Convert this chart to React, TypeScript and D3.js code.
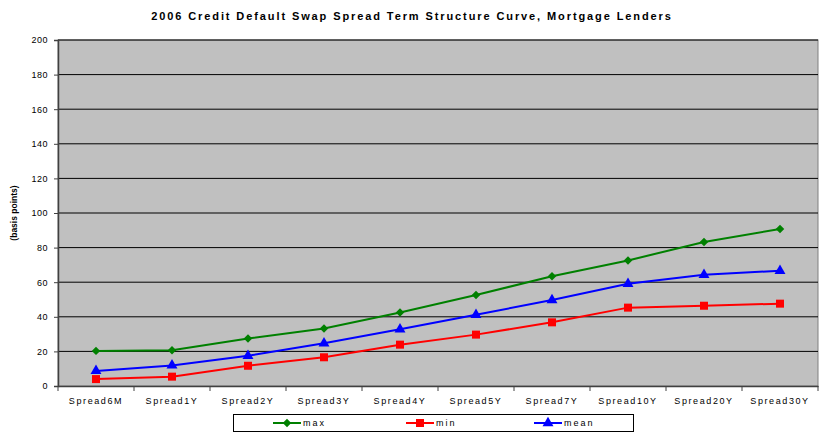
import * as d3 from 'd3';
import React, { useEffect, useRef } from 'react';

const categories = ['Spread6M', 'Spread1Y', 'Spread2Y', 'Spread3Y', 'Spread4Y', 'Spread5Y', 'Spread7Y', 'Spread10Y', 'Spread20Y', 'Spread30Y'];
const maxValues = [20.3, 20.6, 27.5, 33.2, 42.5, 52.6, 63.4, 72.6, 83.2, 90.8];
const minValues = [4.0, 5.4, 11.7, 16.6, 23.9, 29.7, 36.8, 45.3, 46.4, 47.6];
const meanValues = [8.7, 11.9, 17.5, 24.7, 32.8, 41.2, 49.7, 59.1, 64.3, 66.6];
const yTicks = [0, 20, 40, 60, 80, 100, 120, 140, 160, 180, 200];

type Series = { name: string; values: number[]; color: string; symbol: d3.SymbolType; size: number; rotate: number };

const series: Series[] = [
  { name: 'max', values: maxValues, color: '#008000', symbol: d3.symbolSquare, size: 36, rotate: 45 },
  { name: 'min', values: minValues, color: '#FF0000', symbol: d3.symbolSquare, size: 64, rotate: 0 },
  { name: 'mean', values: meanValues, color: '#0000FF', symbol: d3.symbolTriangle, size: 52, rotate: 0 },
];

const App: React.FC = () => {
  const ref = useRef<HTMLDivElement>(null);

  useEffect(() => {
    const width = 824;
    const height = 434;
    const m = { left: 58, right: 6, top: 40, bottom: 48 };

    const x = d3.scaleBand<string>().domain(categories).range([m.left, width - m.right]);
    const y = d3.scaleLinear().domain([0, 200]).range([height - m.bottom, m.top]);

    const svg = d3
      .create('svg')
      .attr('width', width)
      .attr('height', height)
      .attr('style', 'display:block; font-family: Arial, "Liberation Sans", sans-serif;');

    svg.append('rect').attr('width', width).attr('height', height).attr('fill', '#fff');

    // plot background
    svg
      .append('rect')
      .attr('x', m.left)
      .attr('y', m.top)
      .attr('width', width - m.right - m.left)
      .attr('height', height - m.bottom - m.top)
      .attr('fill', '#C0C0C0')
      .attr('stroke', '#808080')
      .attr('stroke-width', 1);

    // grid lines
    svg
      .append('g')
      .selectAll('line')
      .data(yTicks.filter(t => t > 0))
      .join('line')
      .attr('x1', m.left)
      .attr('x2', width - m.right)
      .attr('y1', d => y(d))
      .attr('y2', d => y(d))
      .attr('stroke', '#000')
      .attr('stroke-width', 1);

    // y axis
    const yAxis = svg
      .append('g')
      .attr('transform', `translate(${m.left},0)`)
      .call(d3.axisLeft(y).tickValues(yTicks).tickSize(4).tickPadding(6));
    yAxis.select('.domain').attr('stroke', '#404040').attr('stroke-width', 1.5);
    yAxis.selectAll('.tick line').attr('stroke', '#404040');
    yAxis
      .selectAll('.tick text')
      .attr('font-size', 9)
      .attr('fill', '#000')
      .attr('font-family', 'Arial, "Liberation Sans", sans-serif')
      .style('letter-spacing', '0.5px');

    // x axis
    const xAxis = svg
      .append('g')
      .attr('transform', `translate(0,${height - m.bottom})`)
      .call(d3.axisBottom(x).tickSize(0).tickPadding(12));
    xAxis.select('.domain').attr('stroke', '#404040').attr('stroke-width', 1.5);
    xAxis
      .selectAll('.tick text')
      .attr('font-size', 9)
      .attr('fill', '#000')
      .attr('font-family', 'Arial, "Liberation Sans", sans-serif')
      .style('letter-spacing', '1.6px');

    // band separators as tick marks
    svg
      .append('g')
      .selectAll('line')
      .data(categories.concat(['end']))
      .join('line')
      .attr('x1', (d, i) => m.left + i * x.bandwidth())
      .attr('x2', (d, i) => m.left + i * x.bandwidth())
      .attr('y1', height - m.bottom)
      .attr('y2', height - m.bottom + 5)
      .attr('stroke', '#404040');

    const cx = (c: string) => (x(c) as number) + x.bandwidth() / 2;

    // lines and markers
    series.forEach(s => {
      const line = d3
        .line<number>()
        .x((d, i) => cx(categories[i]))
        .y(d => y(d));
      svg
        .append('path')
        .datum(s.values)
        .attr('d', line)
        .attr('fill', 'none')
        .attr('stroke', s.color)
        .attr('stroke-width', 2);
      svg
        .append('g')
        .selectAll('path')
        .data(s.values)
        .join('path')
        .attr('transform', (d, i) => `translate(${cx(categories[i])},${y(d)}) rotate(${s.rotate})`)
        .attr('d', d3.symbol().type(s.symbol).size(s.size)())
        .attr('fill', s.color);
    });

    // title
    svg
      .append('text')
      .attr('x', 412)
      .attr('y', 20)
      .attr('text-anchor', 'middle')
      .attr('font-size', 11)
      .attr('font-weight', 'bold')
      .style('letter-spacing', '1.9px')
      .text('2006 Credit Default Swap Spread Term Structure Curve, Mortgage Lenders');

    // y label
    svg
      .append('text')
      .attr('transform', `translate(17,${(m.top + height - m.bottom) / 2}) rotate(-90)`)
      .attr('text-anchor', 'middle')
      .attr('font-size', 8.5)
      .attr('font-weight', 'bold')
      .text('(basis points)');

    // legend
    const legend = svg.append('g');
    legend
      .append('rect')
      .attr('x', 233.5)
      .attr('y', 414.5)
      .attr('width', 400)
      .attr('height', 17)
      .attr('fill', '#fff')
      .attr('stroke', '#000');
    const legendX = [273, 406, 534];
    series.forEach((s, i) => {
      const g = legend.append('g').attr('transform', `translate(${legendX[i]},423)`);
      g.append('line').attr('x1', 0).attr('x2', 28).attr('stroke', s.color).attr('stroke-width', 2);
      g.append('path')
        .attr('transform', `translate(14,0) rotate(${s.rotate})`)
        .attr('d', d3.symbol().type(s.symbol).size(s.size)())
        .attr('fill', s.color);
      g.append('text')
        .attr('x', 30)
        .attr('y', 3)
        .attr('font-size', 9)
        .style('letter-spacing', '2px')
        .text(s.name);
    });

    d3.select(ref.current).html('');
    d3.select(ref.current).append(() => svg.node());
  }, []);

  return <div ref={ref} style={{ position: 'absolute', left: 0, top: 0 }}></div>;
};

export default App;
